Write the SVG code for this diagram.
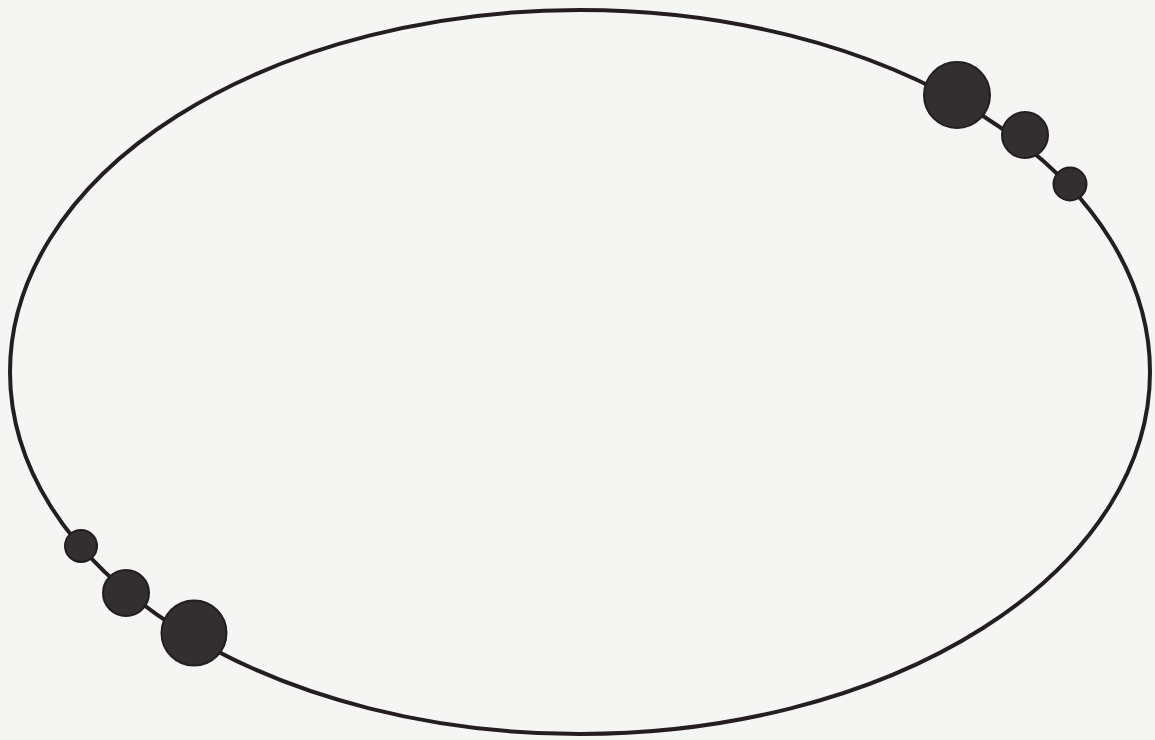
<svg xmlns="http://www.w3.org/2000/svg" width="1155" height="740" viewBox="0 0 1155 740">
<style>
.orbit{fill:none;stroke:#241e21;stroke-width:4}
.dot{fill:#332f31;stroke:#221d20;stroke-width:2}
</style>
<rect width="1155" height="740" fill="#f5f5f4"/>
<g id="orbit"><ellipse class="orbit" cx="580" cy="372" rx="570" ry="362"/></g>
<g id="dots-right">
<circle class="dot" cx="957" cy="95" r="33"/>
<circle class="dot" cx="1025" cy="135" r="23"/>
<circle class="dot" cx="1070" cy="184" r="16.5"/>
</g>
<g id="dots-left">
<circle class="dot" cx="81" cy="546" r="16"/>
<circle class="dot" cx="126" cy="593" r="23"/>
<circle class="dot" cx="194" cy="633" r="32.5"/>
</g>
</svg>
